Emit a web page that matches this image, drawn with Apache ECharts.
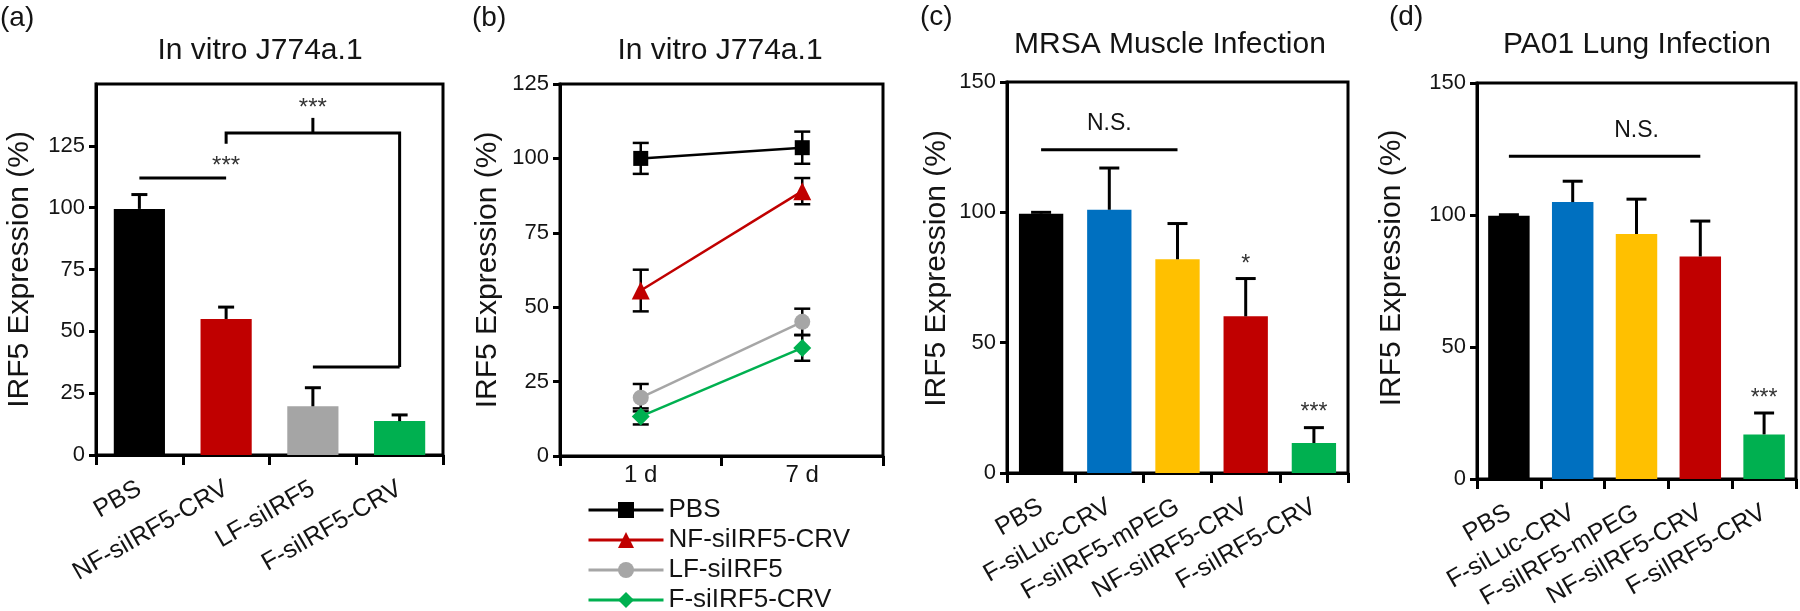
<!DOCTYPE html>
<html><head><meta charset="utf-8">
<script src="https://cdn.jsdelivr.net/npm/echarts@6/dist/echarts.min.js"></script>
<style>html,body{margin:0;padding:0;background:#fff}#c{width:1800px;height:611px}</style>
</head><body><div id="c"></div>
<script>
// ---------- data ----------
// Panel (a): In vitro J774a.1 bar chart
const catsA = ['PBS', 'NF-siIRF5-CRV', 'LF-siIRF5', 'F-siIRF5-CRV'];
const valuesA = [99.5, 55.0, 19.7, 13.7];
const errorsA = [5.8, 4.8, 7.5, 2.5];
const yTicksA = [0, 25, 50, 75, 100, 125];

// Panel (b): In vitro J774a.1 time course
const catsB = ['1 d', '7 d'];
const namesB = ['PBS', 'NF-siIRF5-CRV', 'LF-siIRF5', 'F-siIRF5-CRV'];
const pbsB = [100.0, 103.6];
const pbsErrB = [5.2, 5.4];
const nfB = [55.6, 89.0];
const nfErrB = [7.0, 4.4];
const lfB = [19.6, 45.1];
const lfErrB = [4.6, 4.4];
const fB = [13.3, 36.3];
const fErrB = [2.7, 4.3];

// Panel (c): MRSA Muscle Infection
const catsC = ['PBS', 'F-siLuc-CRV', 'F-siIRF5-mPEG', 'NF-siIRF5-CRV', 'F-siIRF5-CRV'];
const valuesC = [99.5, 101.0, 82.0, 60.1, 11.5];
const errorsC = [0.5, 16.0, 13.7, 14.5, 5.9];

// Panel (d): PA01 Lung Infection
const catsD = ['PBS', 'F-siLuc-CRV', 'F-siIRF5-mPEG', 'NF-siIRF5-CRV', 'F-siIRF5-CRV'];
const valuesD = [99.7, 104.9, 92.8, 84.3, 16.9];
const errorsD = [0.4, 7.9, 13.2, 13.4, 8.1];

// significance annotations, in axis units (category index, value)
const sigA = [
  { path: [[-0.27, 112], [1.43, 112]], text: '***', at: [0.58, 116.5] },
  { path: [[0.57, 125.8], [0.57, 130.2], [2.57, 130.2], [2.57, 35.6]], text: '***', at: [1.56, 140] },
  { path: [[1.59, 130.2], [1.59, 136.3]] },
  { path: [[1.70, 35.6], [3.29, 35.6]] }
];
const sigC = [
  { path: [[-0.28, 124], [2.37, 124]], text: 'N.S.', at: [1.05, 134] },
  { path: [], text: '*', at: [3, 80] },
  { path: [], text: '***', at: [4, 23] }
];
const sigD = [
  { path: [[-0.25, 122.3], [3.29, 122.3]], text: 'N.S.', at: [1.55, 132] },
  { path: [], text: '***', at: [4, 30.5] }
];

// ---------- styles ----------
const FONT = '"Liberation Sans", Arial, Helvetica, sans-serif';
const TXT = '#141414';
const colorsA = ['#000000', '#C00000', '#A5A5A5', '#00B050'];
const colorsB = ['#000000', '#C00000', '#A6A6A6', '#00B050'];
const symbolsB = ['rect', 'triangle', 'circle', 'diamond'];
const symbolSizesB = [15, 18, 16, 18];
const colorsCD = ['#000000', '#0070C0', '#FFC000', '#C00000', '#00B050'];

const chart = echarts.init(document.getElementById('c'), null, { renderer: 'canvas' });

function errUp(capHalf) {
  return function (params, api) {
    const i = api.value(0), v = api.value(1), e = api.value(2);
    const p0 = api.coord([i, v]), p1 = api.coord([i, v + e]);
    const st = { stroke: '#000', lineWidth: 3 };
    return { type: 'group', children: [
      { type: 'line', shape: { x1: p0[0], y1: p0[1], x2: p1[0], y2: p1[1] }, style: st },
      { type: 'line', shape: { x1: p1[0] - capHalf, y1: p1[1], x2: p1[0] + capHalf, y2: p1[1] }, style: st }
    ] };
  };
}
function errBoth(capHalf) {
  return function (params, api) {
    const i = api.value(0), v = api.value(1), e = api.value(2);
    const p0 = api.coord([i, v - e]), p1 = api.coord([i, v + e]);
    const st = { stroke: '#000', lineWidth: 2.5 };
    return { type: 'group', children: [
      { type: 'line', shape: { x1: p0[0], y1: p0[1], x2: p1[0], y2: p1[1] }, style: st },
      { type: 'line', shape: { x1: p1[0] - capHalf, y1: p1[1], x2: p1[0] + capHalf, y2: p1[1] }, style: st },
      { type: 'line', shape: { x1: p0[0] - capHalf, y1: p0[1], x2: p0[0] + capHalf, y2: p0[1] }, style: st }
    ] };
  };
}
function sigRender(specs, fontSize) {
  return function (params, api) {
    const s = specs[params.dataIndex];
    const children = [];
    if (s.path.length) {
      children.push({ type: 'polyline', shape: { points: s.path.map(p => api.coord(p)) },
        style: { stroke: '#000', lineWidth: 3, fill: null } });
    }
    if (s.text) {
      const p = api.coord(s.at);
      children.push({ type: 'text', x: p[0], y: p[1],
        style: { text: s.text, fill: s.text === 'N.S.' ? TXT : '#333', font: fontSize + 'px ' + FONT,
          align: 'center', verticalAlign: 'middle' } });
    }
    return { type: 'group', children };
  };
}

function yAxis(gi, max, interval, nameGap, namePad, custom) {
  const ax = {
    type: 'value', gridIndex: gi, min: 0, max: max, interval: interval,
    splitLine: { show: false },
    axisLine: { show: true, lineStyle: { color: '#000', width: 3 } },
    axisTick: { show: true, inside: false, length: 7, lineStyle: { color: '#000', width: 3 } },
    axisLabel: { fontSize: 22, color: TXT, margin: 11, fontFamily: FONT },
    name: 'IRF5 Expression (%)', nameLocation: 'middle', nameGap: nameGap,
    nameTextStyle: { fontSize: 30, color: TXT, fontFamily: FONT, padding: namePad }
  };
  if (custom) {
    ax.axisLabel.customValues = custom;
    ax.axisTick.customValues = custom;
  }
  return ax;
}
function xAxis(gi, cats, rotate, fontSize, margin) {
  return {
    type: 'category', gridIndex: gi, data: cats, boundaryGap: true,
    axisLine: { show: true, lineStyle: { color: '#000', width: 3 } },
    axisTick: { show: true, inside: false, length: 10, alignWithLabel: false, interval: 0,
      lineStyle: { color: '#000', width: 3 } },
    axisLabel: { rotate: rotate, interval: 0, fontSize: fontSize, color: TXT, margin: margin,
      fontFamily: FONT, hideOverlap: false },
    splitLine: { show: false }
  };
}

const gridBase = { show: true, borderColor: '#000', borderWidth: 3, backgroundColor: 'transparent',
  containLabel: false, outerBoundsMode: 'none' };

function titleAt(text, x, y, size) {
  return { text: text, left: x, top: y, textAlign: 'center', textVerticalAlign: 'middle', padding: 0,
    textStyle: { fontSize: size, fontWeight: 'normal', color: TXT, fontFamily: FONT } };
}
function tagAt(text, x, y) {
  return { text: text, left: x, top: y, textAlign: 'left', textVerticalAlign: 'middle', padding: 0,
    textStyle: { fontSize: 28, fontWeight: 'normal', color: TXT, fontFamily: FONT } };
}

const lineValsB = [pbsB, nfB, lfB, fB];
const lineErrsB = [pbsErrB, nfErrB, lfErrB, fErrB];

const series = [];
// (a)
series.push({ type: 'bar', name: 'bars-a', xAxisIndex: 0, yAxisIndex: 0, barWidth: '59%', z: 2,
  data: valuesA.map((v, i) => ({ value: v, itemStyle: { color: colorsA[i] } })) });
series.push({ type: 'custom', name: 'err-a', xAxisIndex: 0, yAxisIndex: 0, z: 3,
  renderItem: errUp(8), data: valuesA.map((v, i) => [i, v, errorsA[i]]) });
series.push({ type: 'custom', name: 'sig-a', xAxisIndex: 0, yAxisIndex: 0, z: 4,
  renderItem: sigRender(sigA, 24), data: sigA.map(() => [0, 0]) });
// (b)
namesB.forEach((nm, k) => {
  series.push({ type: 'custom', name: 'err-b-' + k, xAxisIndex: 1, yAxisIndex: 1, z: 2,
    renderItem: errBoth(8), data: lineValsB[k].map((v, i) => [i, v, lineErrsB[k][i]]) });
});
namesB.forEach((nm, k) => {
  series.push({ type: 'line', name: nm, xAxisIndex: 1, yAxisIndex: 1, z: 3,
    data: lineValsB[k], symbol: symbolsB[k], symbolSize: symbolSizesB[k], showAllSymbol: true,
    lineStyle: { color: colorsB[k], width: 2.5 }, itemStyle: { color: colorsB[k], borderWidth: 0 },
    emphasis: { disabled: true } });
});
// (c)
series.push({ type: 'bar', name: 'bars-c', xAxisIndex: 2, yAxisIndex: 2, barWidth: '65%', z: 2,
  data: valuesC.map((v, i) => ({ value: v, itemStyle: { color: colorsCD[i] } })) });
series.push({ type: 'custom', name: 'err-c', xAxisIndex: 2, yAxisIndex: 2, z: 3,
  renderItem: errUp(10), data: valuesC.map((v, i) => [i, v, errorsC[i]]) });
series.push({ type: 'custom', name: 'sig-c', xAxisIndex: 2, yAxisIndex: 2, z: 4,
  renderItem: sigRender(sigC, 23), data: sigC.map(() => [0, 0]) });
// (d)
series.push({ type: 'bar', name: 'bars-d', xAxisIndex: 3, yAxisIndex: 3, barWidth: '65%', z: 2,
  data: valuesD.map((v, i) => ({ value: v, itemStyle: { color: colorsCD[i] } })) });
series.push({ type: 'custom', name: 'err-d', xAxisIndex: 3, yAxisIndex: 3, z: 3,
  renderItem: errUp(10), data: valuesD.map((v, i) => [i, v, errorsD[i]]) });
series.push({ type: 'custom', name: 'sig-d', xAxisIndex: 3, yAxisIndex: 3, z: 4,
  renderItem: sigRender(sigD, 23), data: sigD.map(() => [0, 0]) });

const option = {
  animation: false,
  backgroundColor: '#ffffff',
  textStyle: { fontFamily: FONT },
  title: [
    tagAt('(a)', 0, 18), titleAt('In vitro J774a.1', 260, 51, 30),
    tagAt('(b)', 472, 18), titleAt('In vitro J774a.1', 720, 51, 30),
    tagAt('(c)', 920, 17), titleAt('MRSA Muscle Infection', 1170, 45, 30),
    tagAt('(d)', 1389, 17), titleAt('PA01 Lung Infection', 1637, 45, 30)
  ],
  legend: {
    data: namesB, orient: 'vertical', left: 587, top: 497, width: 260, height: 140, padding: 0,
    itemWidth: 75, itemHeight: 20, itemGap: 4, selectedMode: false,
    lineStyle: { width: 3 },
    textStyle: { fontSize: 26, color: TXT, fontFamily: FONT, lineHeight: 25 }
  },
  grid: [
    Object.assign({ left: 96, top: 84, width: 347, height: 371 }, gridBase),
    Object.assign({ left: 560, top: 84, width: 323, height: 372 }, gridBase),
    Object.assign({ left: 1007, top: 82, width: 341, height: 391 }, gridBase),
    Object.assign({ left: 1477, top: 83, width: 319, height: 396 }, gridBase)
  ],
  xAxis: [
    xAxis(0, catsA, 30, 25, 32),
    xAxis(1, catsB, 0, 24, 7),
    xAxis(2, catsC, 30, 25, 32),
    xAxis(3, catsD, 30, 25, 32)
  ],
  yAxis: [
    yAxis(0, 150, 25, 61, 0, yTicksA),
    yAxis(1, 125, 25, 57, 0, null),
    yAxis(2, 150, 50, 55, [0, 0, 0, 18], null),
    yAxis(3, 150, 50, 70, [0, 0, 0, 26], null)
  ],
  series: series
};
chart.setOption(option);
</script>
</body></html>
